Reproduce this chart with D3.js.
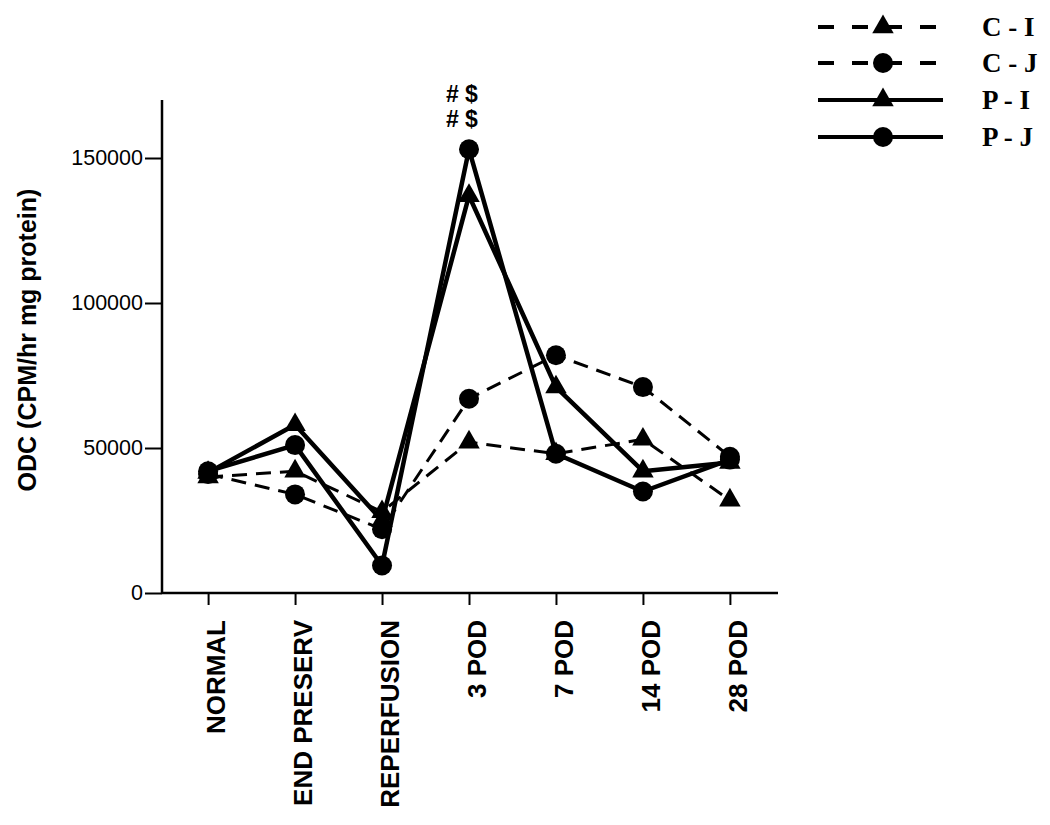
<!DOCTYPE html>
<html>
<head>
<meta charset="utf-8">
<script src="https://cdn.jsdelivr.net/npm/d3@7"></script>
<style>
  body { margin: 0; background: #fff; }
  svg { display: block; }
</style>
</head>
<body>
<svg width="1050" height="825"></svg>
<script>
// timepoints along x
let categories = ["NORMAL", "END PRESERV", "REPERFUSION", "3 POD", "7 POD", "14 POD", "28 POD"];

// ODC values, CPM/hr mg protein
let CI = [40000, 42000, 28000, 52000, 48000, 53000, 32000];
let CJ = [41000, 34000, 22000, 67000, 82000, 71000, 47000];
let PI = [41500, 58000, 25000, 137000, 71000, 42000, 45000];
let PJ = [42000, 51000, 9500, 153000, 48000, 35000, 46000];

let yTicks = [0, 50000, 100000, 150000];

let series = [
    {name: "C - I", values: CI, dashed: true,  marker: "triangle"},
    {name: "C - J", values: CJ, dashed: true,  marker: "circle"},
    {name: "P - I", values: PI, dashed: false, marker: "triangle"},
    {name: "P - J", values: PJ, dashed: false, marker: "circle"}
];

var svg = d3.select("svg");

let x = d3.scalePoint().domain(categories).range([162, 776]).padding(0.53);
let y = d3.scaleLinear().domain([0, 170000]).range([593, 100]);

// axes
let yAxis = svg.append("g")
    .attr("transform", "translate(162,0)")
    .call(d3.axisLeft(y).tickValues(yTicks).tickSize(17).tickPadding(2).tickFormat(d3.format("d")));
yAxis.select(".domain").attr("stroke-width", 2.5).attr("d", "M0," + y(170000) + "V" + y(0));
yAxis.selectAll(".tick line").attr("stroke-width", 2);
yAxis.selectAll(".tick text")
    .attr("font-family", "Liberation Sans, Arial, sans-serif")
    .attr("font-size", 21.5)
    .attr("fill", "#000");

let xAxis = svg.append("g")
    .attr("transform", "translate(0,593)")
    .call(d3.axisBottom(x).tickSize(12).tickSizeOuter(0));
xAxis.select(".domain").attr("stroke-width", 2.5).attr("d", "M162,0H778");
xAxis.selectAll(".tick line").attr("stroke-width", 2);
xAxis.selectAll(".tick text")
    .attr("font-family", "Liberation Sans, Arial, sans-serif")
    .attr("font-size", 26)
    .attr("font-weight", "bold")
    .attr("fill", "#000")
    .attr("text-anchor", "end")
    .attr("transform", "rotate(-90)")
    .attr("x", -27)
    .attr("y", 0)
    .attr("dy", "0.62em");

svg.append("text")
    .attr("transform", "translate(36,340) rotate(-90)")
    .attr("text-anchor", "middle")
    .attr("font-family", "Liberation Sans, Arial, sans-serif")
    .attr("font-size", 25)
    .attr("font-weight", "bold")
    .text("ODC (CPM/hr mg protein)");

// lines
let line = d3.line()
    .x((d, i) => x(categories[i]))
    .y(d => y(d));

svg.selectAll("path.series")
    .data(series)
    .enter().append("path")
    .attr("class", "series")
    .attr("d", d => line(d.values))
    .attr("fill", "none")
    .attr("stroke", "#000")
    .attr("stroke-width", d => d.dashed ? 3 : 4.5)
    .attr("stroke-dasharray", d => d.dashed ? "15,9" : null)
    .attr("stroke-linejoin", "round");

let tri = d3.symbol().type(d3.symbolTriangle).size(200);

function drawMarker(g, kind, cx, cy) {
    if (kind === "circle") {
        g.append("circle").attr("cx", cx).attr("cy", cy).attr("r", 10).attr("fill", "#000");
    } else {
        g.append("path").attr("d", tri()).attr("transform", "translate(" + cx + "," + cy + ")").attr("fill", "#000");
    }
}

let marks = svg.append("g");
series.forEach(s => {
    s.values.forEach((v, i) => drawMarker(marks, s.marker, x(categories[i]), y(v)));
});

// significance marks over 3 POD
let notes = svg.append("g")
    .attr("font-family", "Liberation Sans, Arial, sans-serif")
    .attr("font-size", 23)
    .attr("font-weight", "bold")
    .attr("fill", "#000");
[102, 127].forEach(b => {
    notes.append("text").attr("x", 446).attr("y", b).text("#");
    notes.append("text").attr("x", 465).attr("y", b).text("$");
});

// legend
let legend = svg.append("g");
let legendY = [27, 63, 100, 137];
series.forEach((s, i) => {
    let ly = legendY[i];
    legend.append("line")
        .attr("x1", 818).attr("x2", 943)
        .attr("y1", ly).attr("y2", ly)
        .attr("stroke", "#000")
        .attr("stroke-width", 4)
        .attr("stroke-dasharray", s.dashed ? "16,18" : null);
    drawMarker(legend, s.marker, 883, ly);
    legend.append("text")
        .attr("x", 982).attr("y", ly + 9)
        .attr("font-family", "Liberation Serif, Times New Roman, serif")
        .attr("font-size", 27)
        .attr("font-weight", "bold")
        .text(s.name);
});
</script>
</body>
</html>
